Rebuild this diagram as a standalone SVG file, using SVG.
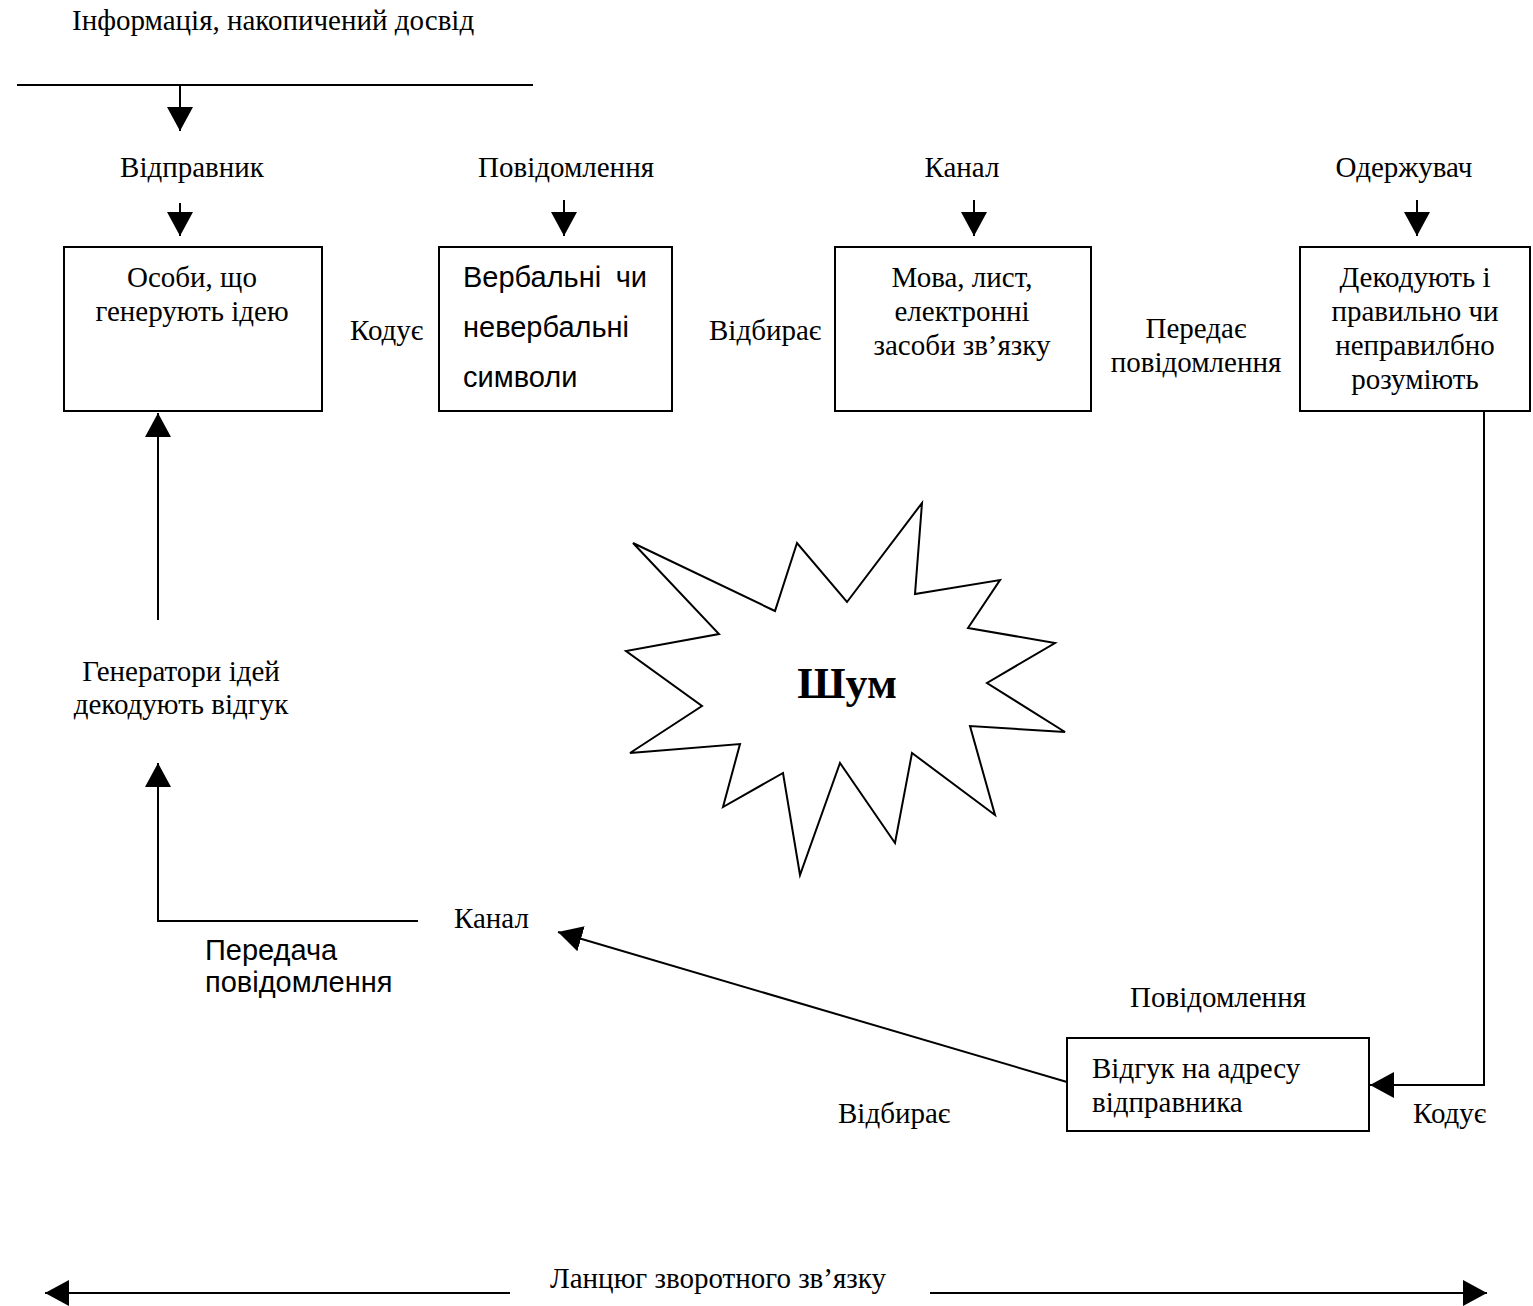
<svg xmlns="http://www.w3.org/2000/svg" width="1533" height="1306" viewBox="0 0 1533 1306">
<style>
.s{font-family:"Liberation Serif","Times New Roman",serif;font-size:29px;fill:#000}
.a{font-family:"Liberation Sans",Arial,sans-serif;font-size:29px;fill:#000}
.c{text-anchor:middle}
.box{fill:#fff;stroke:#000;stroke-width:2}
.ln{fill:none;stroke:#000;stroke-width:2}
</style>
<defs>
<marker id="ah" markerUnits="userSpaceOnUse" markerWidth="26" markerHeight="28" refX="24" refY="13" orient="auto">
<path d="M0,0 L24,13 L0,26 Z" fill="#000"/>
</marker>
</defs>
<text class="s" x="72" y="30">Інформація, накопичений досвід</text>
<g id="connectors">
<line class="ln" x1="17" y1="85" x2="533" y2="85"/>
<line class="ln" x1="180" y1="85" x2="180" y2="131" marker-end="url(#ah)"/>
<line class="ln" x1="180" y1="203" x2="180" y2="236" marker-end="url(#ah)"/>
<line class="ln" x1="564" y1="200" x2="564" y2="236" marker-end="url(#ah)"/>
<line class="ln" x1="974" y1="200" x2="974" y2="236" marker-end="url(#ah)"/>
<line class="ln" x1="1417" y1="200" x2="1417" y2="236" marker-end="url(#ah)"/>
<polyline class="ln" points="1484,411 1484,1085 1370,1085" marker-end="url(#ah)"/>
<line class="ln" x1="1067" y1="1082" x2="558" y2="932" marker-end="url(#ah)"/>
<polyline class="ln" points="418,921 158,921 158,763" marker-end="url(#ah)"/>
<line class="ln" x1="158" y1="620" x2="158" y2="413" marker-end="url(#ah)"/>
<line class="ln" x1="510" y1="1293" x2="45" y2="1293" marker-end="url(#ah)"/>
<line class="ln" x1="930" y1="1293" x2="1487" y2="1293" marker-end="url(#ah)"/>
</g>
<g id="lbl-sender"><text class="s c" x="192" y="177">Відправник</text></g>
<g id="lbl-msg"><text class="s c" x="566" y="177">Повідомлення</text></g>
<g id="lbl-chan"><text class="s c" x="962" y="177">Канал</text></g>
<g id="lbl-recv"><text class="s c" x="1404" y="177">Одержувач</text></g>
<g id="box1"><rect class="box" x="64" y="247" width="258" height="164"/>
<text class="s c" x="192" y="287">Особи, що</text><text class="s c" x="192" y="321">генерують ідею</text></g>
<g id="lbl-encode"><text class="s" x="350" y="340">Кодує</text></g>
<g id="box2"><rect class="box" x="439" y="247" width="233" height="164"/>
<text class="a" x="463" y="287">Вербальні</text><text class="a" x="647" y="287" text-anchor="end">чи</text><text class="a" x="463" y="337">невербальні</text><text class="a" x="463" y="387">символи</text></g>
<g id="lbl-select"><text class="s" x="709" y="340">Відбирає</text></g>
<g id="box3"><rect class="box" x="835" y="247" width="256" height="164"/>
<text class="s c" x="962" y="287">Мова, лист,</text><text class="s c" x="962" y="321">електронні</text><text class="s c" x="962" y="355">засоби зв’язку</text></g>
<g id="lbl-transmit"><text class="s c" x="1196" y="338">Передає</text><text class="s c" x="1196" y="372">повідомлення</text></g>
<g id="box4"><rect class="box" x="1300" y="247" width="230" height="164"/>
<text class="s c" x="1415" y="287">Декодують і</text><text class="s c" x="1415" y="321">правильно чи</text><text class="s c" x="1415" y="355">неправилбно</text><text class="s c" x="1415" y="389">розуміють</text></g>
<g id="noise">
<polygon class="ln" fill="#fff" points="633,543 775,611 797,543 847,602 922,503 915,594 1000,580 968,628 1055,643 987,683 1065,732 970,726 995,815 912,753 895,843 840,763 800,875 783,773 723,807 740,744 630,753 702,706 626,651 719,634"/>
<text class="s c" x="847" y="698" style="font-size:44px;font-weight:bold">Шум</text>
</g>
<g id="lbl-gen"><text class="s c" x="181" y="681">Генератори ідей</text><text class="s c" x="181" y="714">декодують відгук</text></g>
<g id="lbl-chan2"><text class="s" x="454" y="928">Канал</text></g>
<g id="lbl-trans2"><text class="a" x="205" y="960">Передача</text><text class="a" x="205" y="992">повідомлення</text></g>
<g id="lbl-msg2"><text class="s c" x="1218" y="1007">Повідомлення</text></g>
<g id="box5"><rect class="box" x="1067" y="1038" width="302" height="93"/>
<text class="s" x="1092" y="1078">Відгук на адресу</text><text class="s" x="1092" y="1112">відправника</text></g>
<g id="lbl-select2"><text class="s" x="838" y="1123">Відбирає</text></g>
<g id="lbl-encode2"><text class="s" x="1413" y="1123">Кодує</text></g>
<g id="lbl-chain"><text class="s c" x="718" y="1288">Ланцюг зворотного зв’язку</text></g>
</svg>
